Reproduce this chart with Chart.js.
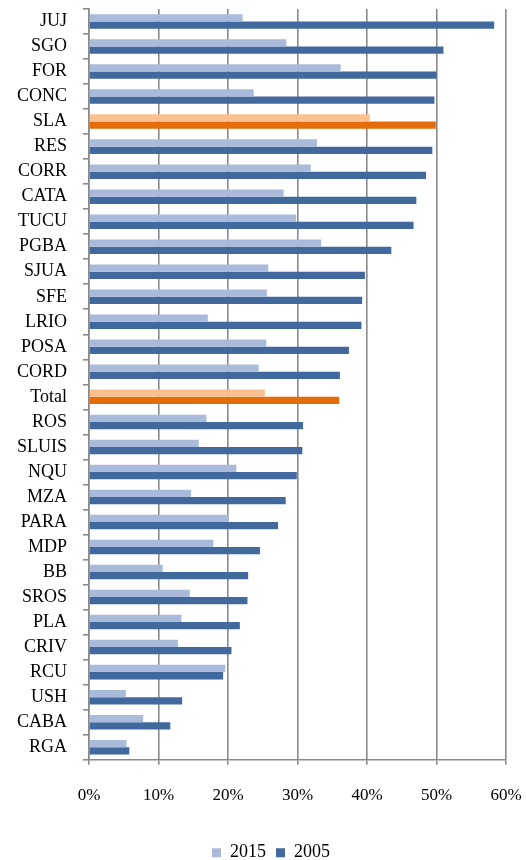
<!DOCTYPE html>
<html>
<head>
<meta charset="utf-8">
<script src="https://cdn.jsdelivr.net/npm/chart.js@4/dist/chart.umd.min.js"></script>
<style>
  html, body { margin: 0; padding: 0; background: #fff; }
  #wrap { width: 526px; height: 860px; }
</style>
</head>
<body>
<div id="wrap"><canvas id="chart" width="526" height="860"></canvas></div>
<script>
// --- Data (percent) ---
const categories = ['JUJ', 'SGO', 'FOR', 'CONC', 'SLA', 'RES', 'CORR', 'CATA', 'TUCU', 'PGBA',
  'SJUA', 'SFE', 'LRIO', 'POSA', 'CORD', 'Total', 'ROS', 'SLUIS', 'NQU', 'MZA',
  'PARA', 'MDP', 'BB', 'SROS', 'PLA', 'CRIV', 'RCU', 'USH', 'CABA', 'RGA'];
const values2015 = [22.1, 28.4, 36.2, 23.7, 40.4, 32.8, 31.9, 28.0, 29.8, 33.4,
  25.8, 25.6, 17.1, 25.5, 24.4, 25.3, 16.9, 15.8, 21.2, 14.7,
  20.1, 17.9, 10.6, 14.5, 13.3, 12.8, 19.6, 5.3, 7.8, 5.4];
const values2005 = [58.3, 51.0, 50.0, 49.7, 49.9, 49.4, 48.5, 47.1, 46.7, 43.5,
  39.7, 39.3, 39.2, 37.4, 36.1, 36.0, 30.8, 30.7, 29.9, 28.3,
  27.2, 24.6, 22.9, 22.8, 21.7, 20.5, 19.3, 13.4, 11.7, 5.8];
const highlighted = ['SLA', 'Total'];
const xTicks = [0, 10, 20, 30, 40, 50, 60];

const FONT = 'Liberation Serif';
const GRID = '#8a8a8a';

function barColor(base, hi) {
  return c => highlighted.includes(categories[c.dataIndex]) ? hi : base;
}

// nudge the legend a bit to the right, like the original
const legendShift = {
  id: 'legendShift',
  afterLayout(chart) {
    chart.legend.left += 18;
    chart.legend.right += 18;
  }
};

new Chart(document.getElementById('chart').getContext('2d'), {
  type: 'bar',
  data: {
    labels: categories,
    datasets: [
      { label: '2015', data: values2015, backgroundColor: barColor('#a9badb', '#fac090'),
        categoryPercentage: 0.58, barPercentage: 1.0 },
      { label: '2005', data: values2005, backgroundColor: barColor('#41699e', '#e46c0a'),
        categoryPercentage: 0.58, barPercentage: 1.0 }
    ]
  },
  plugins: [legendShift],
  options: {
    indexAxis: 'y',
    responsive: false,
    animation: false,
    layout: { padding: { top: 9, left: 0, right: 20, bottom: -11.7 } },
    plugins: {
      tooltip: { enabled: false },
      legend: {
        position: 'bottom',
        labels: {
          boxWidth: 9, boxHeight: 9, padding: 10, color: '#000',
          font: { family: FONT, size: 18 }
        }
      }
    },
    scales: {
      x: {
        min: 0, max: 60,
        afterBuildTicks: s => { s.ticks = xTicks.map(v => ({ value: v })); },
        afterFit: s => { s.height = 74; s.paddingLeft = 0; s.paddingRight = 0; },
        grid: { color: GRID, lineWidth: 1.6, tickLength: 5, drawTicks: true },
        border: { color: GRID, width: 1.6 },
        ticks: {
          padding: 21, color: '#000', maxRotation: 0,
          font: { family: FONT, size: 17 },
          callback: v => v + '%'
        }
      },
      y: {
        afterFit: s => { s.width = 89; s.paddingTop = 0; s.paddingBottom = 0; },
        grid: { drawOnChartArea: false, color: GRID, lineWidth: 1.6, tickLength: 6, offset: true },
        border: { color: GRID, width: 1.6 },
        ticks: {
          padding: 16, color: '#000', autoSkip: false,
          font: { family: FONT, size: 18 }
        }
      }
    }
  }
});
</script>
</body>
</html>
